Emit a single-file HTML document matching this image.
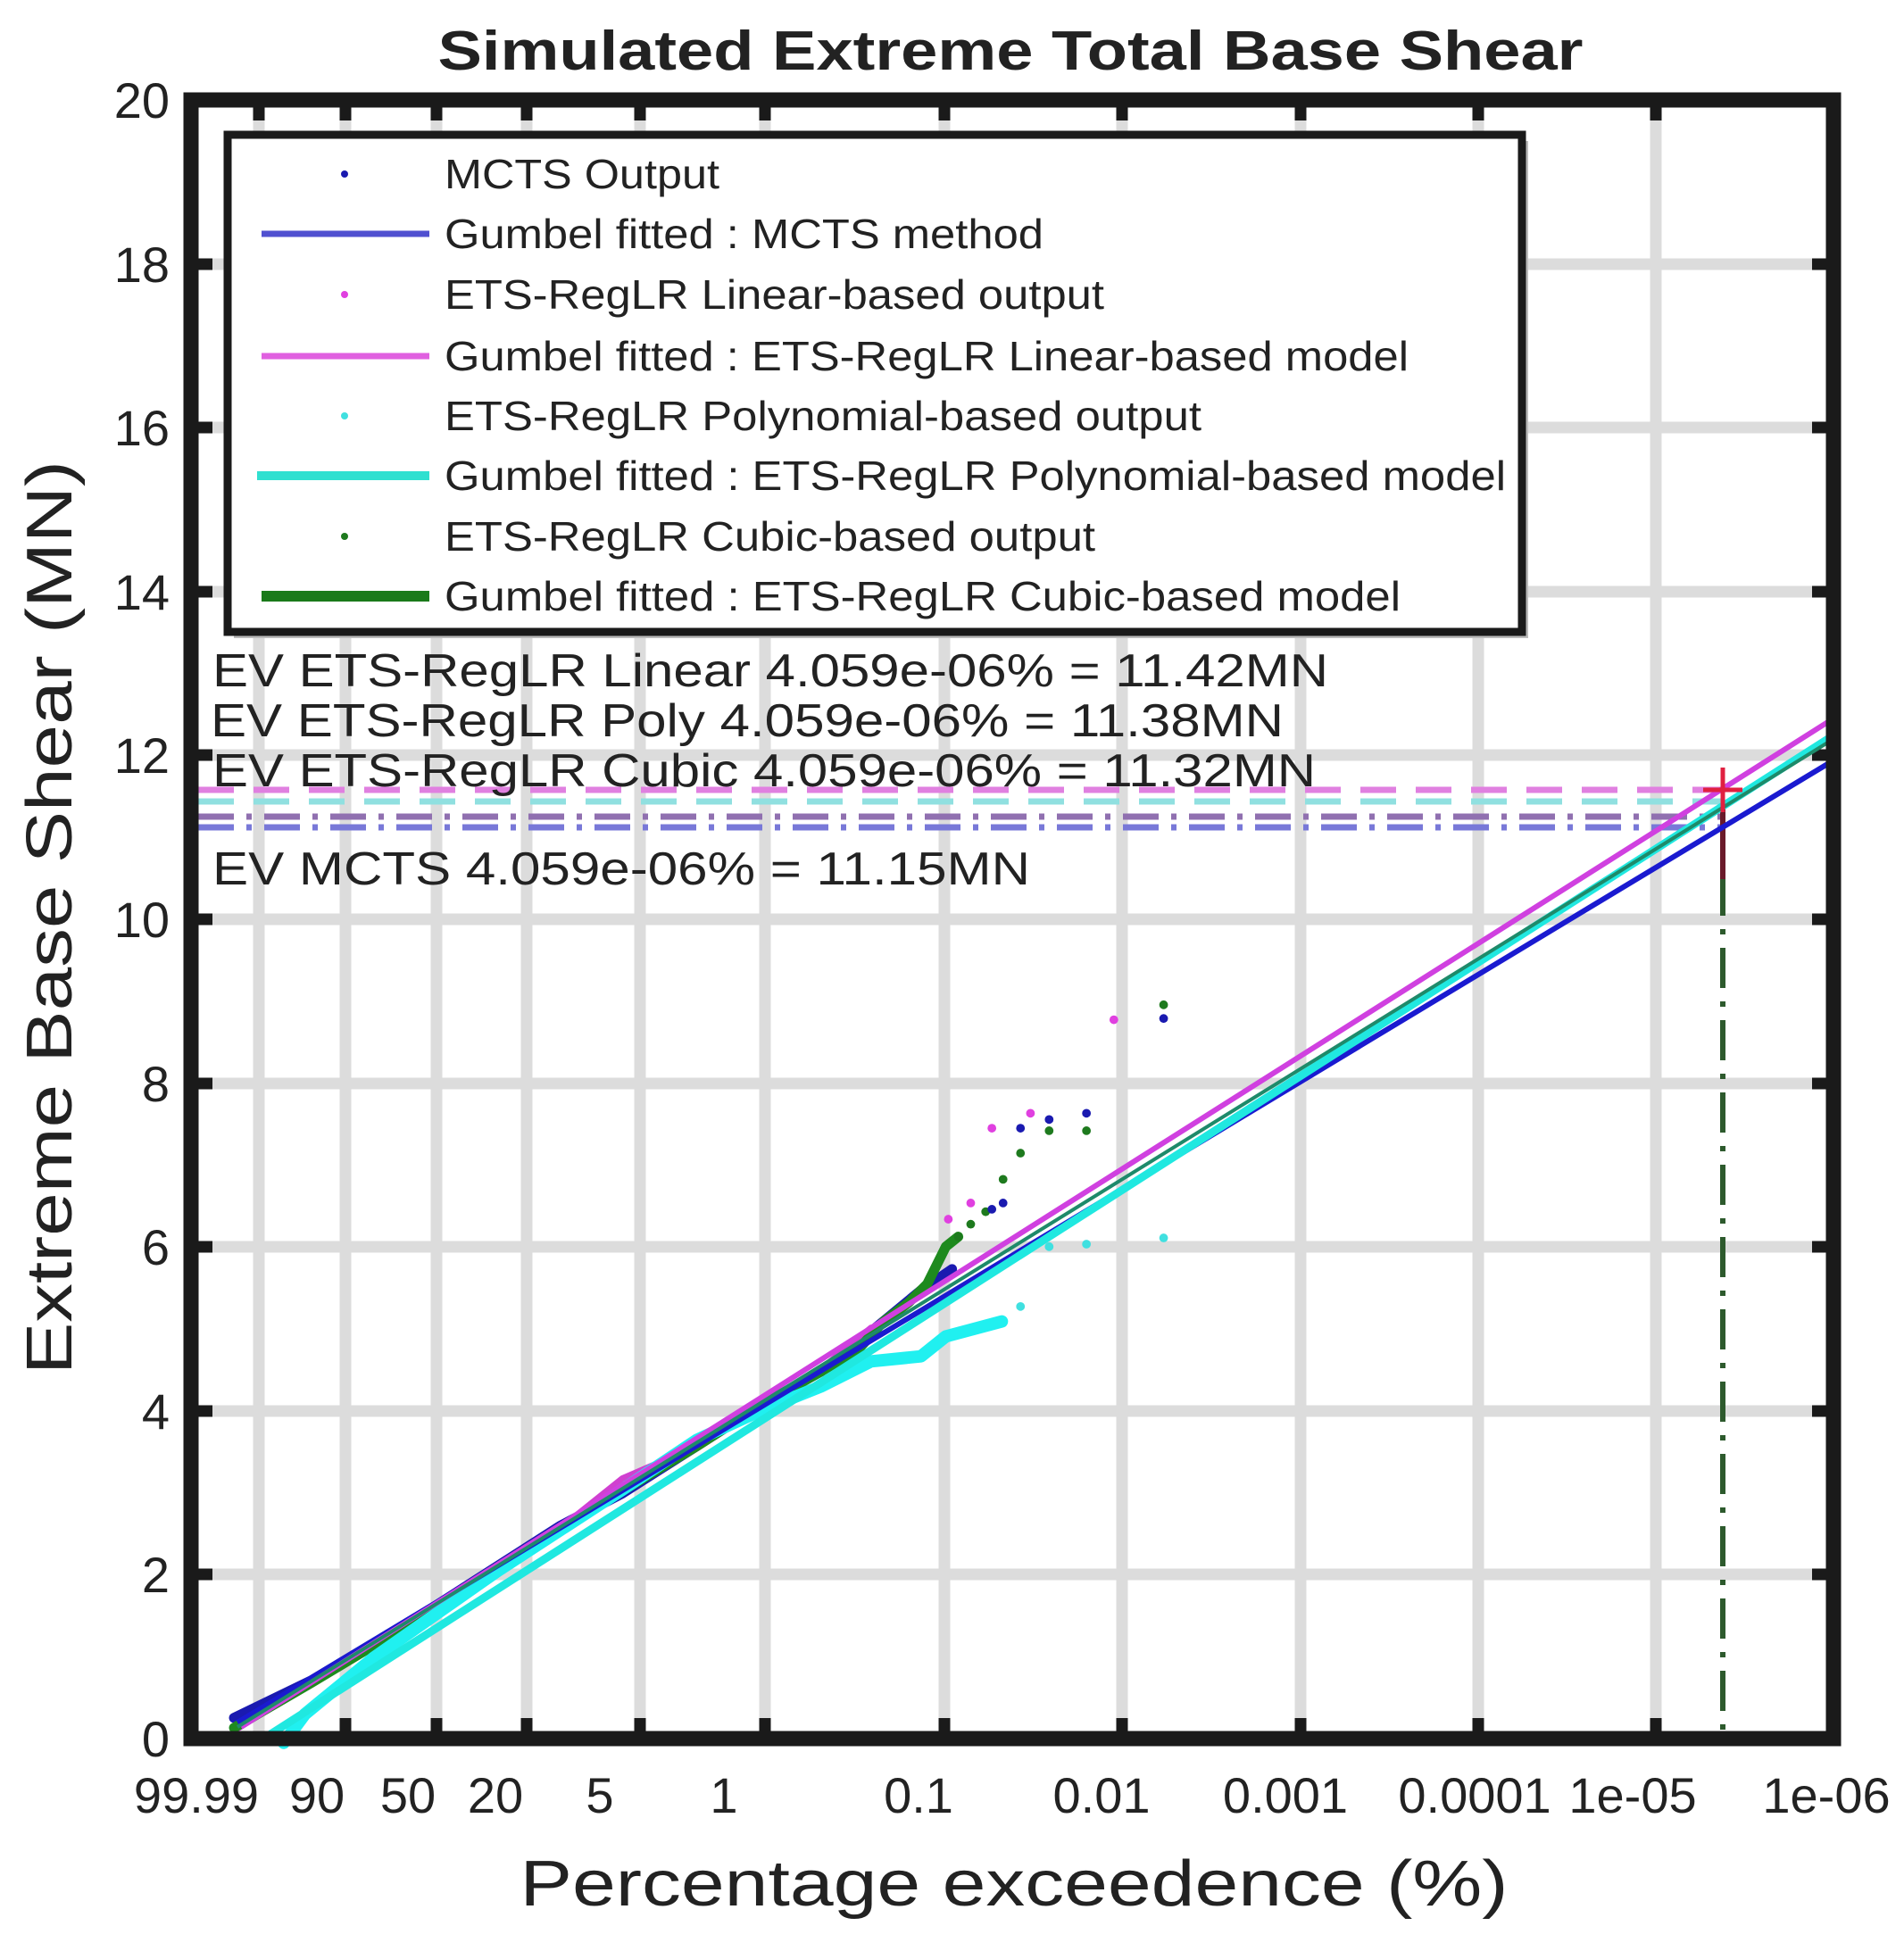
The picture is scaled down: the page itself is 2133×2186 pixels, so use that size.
<!DOCTYPE html>
<html><head><meta charset="utf-8"><style>
html,body{margin:0;padding:0;background:#fff;}
svg{display:block;}
text{font-family:"Liberation Sans",Arial,sans-serif;fill:#222;}
</style></head><body>
<svg width="2133" height="2186" viewBox="0 0 2133 2186" xmlns="http://www.w3.org/2000/svg">
<rect width="2133" height="2186" fill="#fff"/>
<text x="1132" y="78" font-size="62" font-weight="bold" text-anchor="middle" textLength="1283" lengthAdjust="spacingAndGlyphs" fill="#111">Simulated Extreme Total Base Shear</text>
<g stroke="#dcdcdc" stroke-width="13">
<line x1="290" y1="112" x2="290" y2="1948"/><line x1="387" y1="112" x2="387" y2="1948"/>
<line x1="489" y1="112" x2="489" y2="1948"/><line x1="590" y1="112" x2="590" y2="1948"/>
<line x1="717" y1="112" x2="717" y2="1948"/><line x1="857" y1="112" x2="857" y2="1948"/>
<line x1="1058" y1="112" x2="1058" y2="1948"/><line x1="1257" y1="112" x2="1257" y2="1948"/>
<line x1="1457" y1="112" x2="1457" y2="1948"/><line x1="1656" y1="112" x2="1656" y2="1948"/>
<line x1="1855" y1="112" x2="1855" y2="1948"/>
<line x1="214" y1="1764" x2="2054" y2="1764"/><line x1="214" y1="1581" x2="2054" y2="1581"/>
<line x1="214" y1="1397" x2="2054" y2="1397"/><line x1="214" y1="1214" x2="2054" y2="1214"/>
<line x1="214" y1="1030" x2="2054" y2="1030"/><line x1="214" y1="846" x2="2054" y2="846"/>
<line x1="214" y1="663" x2="2054" y2="663"/><line x1="214" y1="479" x2="2054" y2="479"/>
<line x1="214" y1="296" x2="2054" y2="296"/>
</g>
<g stroke="#1a1a1a" stroke-width="13">
<line x1="387" y1="1948" x2="387" y2="1925"/><line x1="489" y1="1948" x2="489" y2="1925"/>
<line x1="590" y1="1948" x2="590" y2="1925"/><line x1="717" y1="1948" x2="717" y2="1925"/>
<line x1="857" y1="1948" x2="857" y2="1925"/><line x1="1058" y1="1948" x2="1058" y2="1925"/>
<line x1="1257" y1="1948" x2="1257" y2="1925"/><line x1="1457" y1="1948" x2="1457" y2="1925"/>
<line x1="1656" y1="1948" x2="1656" y2="1925"/><line x1="1855" y1="1948" x2="1855" y2="1925"/>
<line x1="290" y1="112" x2="290" y2="135"/><line x1="387" y1="112" x2="387" y2="135"/>
<line x1="489" y1="112" x2="489" y2="135"/><line x1="590" y1="112" x2="590" y2="135"/>
<line x1="717" y1="112" x2="717" y2="135"/><line x1="857" y1="112" x2="857" y2="135"/>
<line x1="1058" y1="112" x2="1058" y2="135"/><line x1="1257" y1="112" x2="1257" y2="135"/>
<line x1="1457" y1="112" x2="1457" y2="135"/><line x1="1656" y1="112" x2="1656" y2="135"/>
<line x1="1855" y1="112" x2="1855" y2="135"/>
<g id="lt">
<line x1="214" y1="1764" x2="238" y2="1764"/><line x1="214" y1="1581" x2="238" y2="1581"/>
<line x1="214" y1="1397" x2="238" y2="1397"/><line x1="214" y1="1214" x2="238" y2="1214"/>
<line x1="214" y1="1030" x2="238" y2="1030"/><line x1="214" y1="846" x2="238" y2="846"/>
<line x1="214" y1="663" x2="238" y2="663"/><line x1="214" y1="479" x2="238" y2="479"/>
<line x1="214" y1="296" x2="238" y2="296"/>
</g>
<use href="#lt" transform="translate(2268,0) scale(-1,1)"/>
</g>
<g stroke-width="7" fill="none">
<line x1="222" y1="885" x2="1930" y2="885" stroke="#e080e0" stroke-dasharray="40,22"/>
<line x1="222" y1="898" x2="1930" y2="898" stroke="#90e0e0" stroke-dasharray="40,22"/>
<line x1="222" y1="915" x2="1930" y2="915" stroke="#9070b0" stroke-dasharray="40,14,6,14"/>
<line x1="222" y1="927" x2="1930" y2="927" stroke="#7878d8" stroke-dasharray="40,14,6,14"/>
</g>
<line x1="1930" y1="900" x2="1930" y2="1948" stroke="#2d5a2d" stroke-width="6" stroke-dasharray="45,15,6,15"/>
<line x1="1930" y1="905" x2="1930" y2="985" stroke="#6a1a2a" stroke-width="6"/>
<!-- data (display coords scaled) -->
<g transform="scale(1.3942,1.3968)" fill="none" stroke-linecap="round" stroke-linejoin="round">
<polyline stroke="#1a1ab0" stroke-width="8" points="188,1378 250,1348 350,1288 450,1224 500,1198 560,1160 610,1128 660,1100 700,1068 740,1035 765,1018"/>
<polyline stroke="#d040d0" stroke-width="5" points="192,1386 250,1350 350,1290 450,1226 500,1186 560,1160 610,1128 660,1098 700,1065"/>
<polyline stroke="#1e8a1e" stroke-width="8" points="188,1386 250,1350 350,1290 450,1226 560,1160 610,1128 660,1100 690,1082 710,1060 730,1045 745,1030 760,1000 770,992"/>
<polyline stroke="#20f0f0" stroke-width="10" points="228,1398 245,1375 300,1330 400,1260 500,1195 560,1155 610,1132 660,1112 700,1092 740,1088 760,1072 805,1060"/>
<g stroke="none">
<circle cx="762" cy="978" r="3.5" fill="#e040e0"/><circle cx="780" cy="965" r="3.5" fill="#e040e0"/>
<circle cx="797" cy="905" r="3.5" fill="#e040e0"/><circle cx="828" cy="893" r="3.5" fill="#e040e0"/>
<circle cx="895" cy="818" r="3.5" fill="#e040e0"/>
<circle cx="770" cy="992" r="3.5" fill="#1e7a1e"/><circle cx="780" cy="982" r="3.5" fill="#1e7a1e"/>
<circle cx="792" cy="972" r="3.5" fill="#1e7a1e"/><circle cx="806" cy="946" r="3.5" fill="#1e7a1e"/>
<circle cx="820" cy="925" r="3.5" fill="#1e7a1e"/><circle cx="843" cy="907" r="3.5" fill="#1e7a1e"/>
<circle cx="873" cy="907" r="3.5" fill="#1e7a1e"/><circle cx="935" cy="806" r="3.5" fill="#1e7a1e"/>
<circle cx="797" cy="970" r="3.5" fill="#1a1ab0"/><circle cx="806" cy="965" r="3.5" fill="#1a1ab0"/>
<circle cx="820" cy="905" r="3.5" fill="#1a1ab0"/><circle cx="843" cy="898" r="3.5" fill="#1a1ab0"/>
<circle cx="873" cy="893" r="3.5" fill="#1a1ab0"/><circle cx="935" cy="817" r="3.5" fill="#1a1ab0"/>
<circle cx="820" cy="1048" r="3.5" fill="#40e0e0"/><circle cx="843" cy="1000" r="3.5" fill="#40e0e0"/>
<circle cx="873" cy="998" r="3.5" fill="#40e0e0"/><circle cx="935" cy="993" r="3.5" fill="#40e0e0"/>
</g>
</g>
<g stroke-width="6" fill="none">
<line x1="266" y1="1930" x2="2054" y2="852" stroke="#1a1ad0"/>
<line x1="270" y1="1935" x2="2054" y2="805" stroke="#d040e0"/>
<line x1="300" y1="1945" x2="2054" y2="824" stroke="#20e8e0" stroke-width="9"/>
<line x1="266" y1="1935" x2="2054" y2="828" stroke="#1e8a6a" stroke-width="4"/>
</g>
<g stroke="#e02040" stroke-width="5"><line x1="1908" y1="885" x2="1952" y2="885"/><line x1="1930" y1="860" x2="1930" y2="910"/></g>
<rect x="214" y="112" width="1840" height="1836" fill="none" stroke="#1a1a1a" stroke-width="17"/>
<rect x="262" y="158" width="1450" height="557" fill="#bbb"/>
<rect x="255" y="151" width="1450" height="557" fill="#fff" stroke="#1a1a1a" stroke-width="9"/>
<g font-size="46">
<circle cx="386" cy="195" r="4" fill="#1a1ab0"/>
<text x="498" y="211" textLength="308" lengthAdjust="spacingAndGlyphs">MCTS Output</text>
<line x1="293" y1="262" x2="481" y2="262" stroke="#5050d0" stroke-width="7"/>
<text x="498" y="278" textLength="671" lengthAdjust="spacingAndGlyphs">Gumbel fitted : MCTS method</text>
<circle cx="386" cy="330" r="4" fill="#e040e0"/>
<text x="498" y="346" textLength="739" lengthAdjust="spacingAndGlyphs">ETS-RegLR Linear-based output</text>
<line x1="293" y1="399" x2="481" y2="399" stroke="#e060e0" stroke-width="7"/>
<text x="498" y="415" textLength="1080" lengthAdjust="spacingAndGlyphs">Gumbel fitted : ETS-RegLR Linear-based model</text>
<circle cx="386" cy="466" r="4" fill="#40e0e0"/>
<text x="498" y="482" textLength="848" lengthAdjust="spacingAndGlyphs">ETS-RegLR Polynomial-based output</text>
<line x1="288" y1="533" x2="481" y2="533" stroke="#30e0d0" stroke-width="10"/>
<text x="498" y="549" textLength="1189" lengthAdjust="spacingAndGlyphs">Gumbel fitted : ETS-RegLR Polynomial-based model</text>
<circle cx="386" cy="601" r="4" fill="#1e7a1e"/>
<text x="498" y="617" textLength="729" lengthAdjust="spacingAndGlyphs">ETS-RegLR Cubic-based output</text>
<line x1="293" y1="668" x2="481" y2="668" stroke="#1a7a1a" stroke-width="12"/>
<text x="498" y="684" textLength="1071" lengthAdjust="spacingAndGlyphs">Gumbel fitted : ETS-RegLR Cubic-based model</text>
</g>
<g font-size="52" fill="#111">
<text x="238" y="769" textLength="1250" lengthAdjust="spacingAndGlyphs">EV ETS-RegLR Linear 4.059e-06% = 11.42MN</text>
<text x="236" y="825" textLength="1202" lengthAdjust="spacingAndGlyphs">EV ETS-RegLR Poly 4.059e-06% = 11.38MN</text>
<text x="238" y="881" textLength="1236" lengthAdjust="spacingAndGlyphs">EV ETS-RegLR Cubic 4.059e-06% = 11.32MN</text>
<text x="238" y="991" textLength="916" lengthAdjust="spacingAndGlyphs">EV MCTS 4.059e-06% = 11.15MN</text>
</g>
<g font-size="56" text-anchor="end" fill="#333">
<text x="190" y="1968">0</text><text x="190" y="1784">2</text><text x="190" y="1601">4</text>
<text x="190" y="1417">6</text><text x="190" y="1234">8</text><text x="190" y="1050">10</text>
<text x="190" y="866">12</text><text x="190" y="683">14</text><text x="190" y="499">16</text>
<text x="190" y="316">18</text><text x="190" y="132">20</text>
</g>
<g font-size="56" text-anchor="middle" fill="#333">
<text x="220" y="2031">99.99</text><text x="355" y="2031">90</text><text x="457" y="2031">50</text>
<text x="555" y="2031">20</text><text x="672" y="2031">5</text><text x="811" y="2031">1</text>
<text x="1029" y="2031">0.1</text><text x="1234" y="2031">0.01</text><text x="1440" y="2031">0.001</text>
<text x="1652" y="2031">0.0001</text><text x="1829" y="2031">1e-05</text><text x="2046" y="2031">1e-06</text>
</g>
<text x="1136" y="2135" font-size="72" text-anchor="middle" textLength="1107" lengthAdjust="spacingAndGlyphs" fill="#222">Percentage exceedence (%)</text>
<text transform="translate(80,1028) rotate(-90)" font-size="72" text-anchor="middle" textLength="1024" lengthAdjust="spacingAndGlyphs" fill="#222">Extreme Base Shear (MN)</text>
</svg>
</body></html>
